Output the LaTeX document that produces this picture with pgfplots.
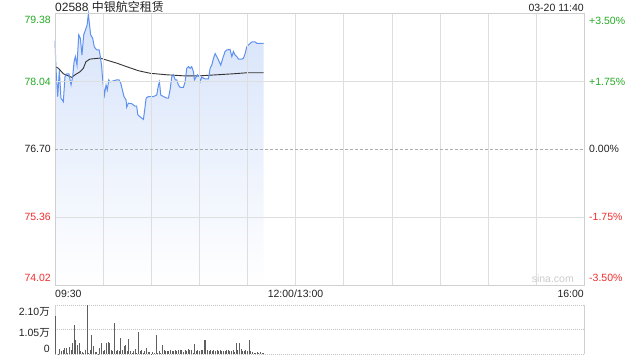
\documentclass[border=0pt]{standalone}
\usepackage{pgfplots}
\pgfplotsset{compat=1.18}
\usepackage{fontspec}
\setmainfont{Liberation Sans}
\newfontfamily\cjk{Noto Sans CJK SC}
\definecolor{upg}{RGB}{35,170,35}
\definecolor{dnr}{RGB}{240,45,45}
\definecolor{pline}{RGB}{95,145,240}
\definecolor{pfill}{RGB}{214,227,250}
\definecolor{gridc}{RGB}{195,195,195}
\definecolor{gridl}{RGB}{222,222,222}
\definecolor{framec}{RGB}{208,208,208}
\definecolor{volc}{RGB}{95,95,95}
\definecolor{txt}{RGB}{34,34,34}
\begin{document}
\begin{tikzpicture}[x=1bp,y=1bp]
\useasboundingbox (0,0) rectangle (640,-360);
% ---------------- price chart ----------------
\begin{axis}[
  at={(55bp,-285bp)}, anchor=south west,
  scale only axis, width=529.5bp, height=271.5bp,
  xmin=0, xmax=330, ymin=74.02, ymax=79.38,
  axis on top,
  axis line style={draw=framec, line width=0.8bp},
  xtick={30,60,...,300}, ytick={75.36,78.04},
  xticklabels={}, yticklabels={},
  major tick length=0pt,
  xmajorgrids=true, ymajorgrids=true,
  major grid style={draw=gridl, line width=0.9bp, solid},
  extra y ticks={76.70}, extra y tick labels={},
  extra y tick style={ymajorgrids=true, major grid style={draw=gray!65, line width=0.8bp, dash pattern=on 3bp off 2bp}},
  clip=false,
]
\addplot[draw=none, top color=pfill, bottom color=white] table {
0.0 78.84
0.6 78.30
1.7 77.74
2.7 78.26
3.7 77.71
5.2 77.64
6.2 78.13
7.3 78.19
8.7 78.19
10.0 77.97
11.0 78.13
11.9 78.43
12.7 78.53
13.7 78.36
14.8 78.96
15.8 78.89
16.8 78.56
17.9 78.96
18.9 79.05
20.0 79.15
20.8 79.37
21.4 79.19
22.2 78.96
23.5 78.89
24.5 78.72
26.0 78.66
27.5 78.66
28.1 78.56
29.1 78.33
29.7 78.07
30.8 77.77
31.8 77.97
32.6 77.87
33.5 78.07
34.3 78.03
36.4 78.05
38.5 78.07
39.9 78.07
41.0 78.00
42.0 77.87
43.0 77.74
44.3 77.67
44.7 77.53
45.7 77.61
47.8 77.60
49.9 77.55
50.9 77.55
51.6 77.38
53.0 77.34
55.1 77.29
55.9 77.48
56.8 77.71
58.2 77.74
61.3 77.74
63.4 77.77
64.5 77.97
65.1 78.03
65.9 77.77
67.6 77.74
69.7 77.71
70.7 77.71
71.7 77.87
72.8 78.13
73.8 78.17
74.9 78.07
75.9 78.07
76.9 77.97
78.0 77.92
80.0 77.92
81.1 78.03
82.1 78.30
83.2 78.33
84.2 78.30
85.2 78.33
86.3 78.23
86.9 78.07
88.0 78.13
88.8 78.17
90.0 78.13
90.4 78.03
91.5 78.13
92.5 78.10
93.6 78.09
95.6 78.09
96.7 78.30
97.7 78.36
98.8 78.50
99.8 78.59
100.8 78.53
101.9 78.46
103.3 78.36
104.6 78.50
106.0 78.63
107.1 78.66
109.1 78.67
110.2 78.53
111.2 78.63
112.3 78.56
113.3 78.53
114.4 78.48
116.4 78.48
117.5 78.50
118.5 78.59
119.5 78.72
120.6 78.76
122.7 78.82
124.7 78.82
125.8 78.79
130.0 78.79
} \closedcycle;
% average price
\addplot[draw=black!80, line width=0.9bp] table {
0.0 78.33
2.1 78.30
5.2 78.19
10.4 78.12
12.5 78.17
15.6 78.23
17.7 78.30
19.3 78.43
21.8 78.48
28.1 78.50
32.2 78.46
38.5 78.40
44.7 78.33
52.0 78.25
59.3 78.20
69.7 78.17
80.0 78.15
90.4 78.15
100.8 78.17
111.2 78.19
119.5 78.21
130.0 78.21
};
% price
\addplot[draw=pline, line width=1bp] table {
0.0 78.84
0.6 78.30
1.7 77.74
2.7 78.26
3.7 77.71
5.2 77.64
6.2 78.13
7.3 78.19
8.7 78.19
10.0 77.97
11.0 78.13
11.9 78.43
12.7 78.53
13.7 78.36
14.8 78.96
15.8 78.89
16.8 78.56
17.9 78.96
18.9 79.05
20.0 79.15
20.8 79.37
21.4 79.19
22.2 78.96
23.5 78.89
24.5 78.72
26.0 78.66
27.5 78.66
28.1 78.56
29.1 78.33
29.7 78.07
30.8 77.77
31.8 77.97
32.6 77.87
33.5 78.07
34.3 78.03
36.4 78.05
38.5 78.07
39.9 78.07
41.0 78.00
42.0 77.87
43.0 77.74
44.3 77.67
44.7 77.53
45.7 77.61
47.8 77.60
49.9 77.55
50.9 77.55
51.6 77.38
53.0 77.34
55.1 77.29
55.9 77.48
56.8 77.71
58.2 77.74
61.3 77.74
63.4 77.77
64.5 77.97
65.1 78.03
65.9 77.77
67.6 77.74
69.7 77.71
70.7 77.71
71.7 77.87
72.8 78.13
73.8 78.17
74.9 78.07
75.9 78.07
76.9 77.97
78.0 77.92
80.0 77.92
81.1 78.03
82.1 78.30
83.2 78.33
84.2 78.30
85.2 78.33
86.3 78.23
86.9 78.07
88.0 78.13
88.8 78.17
90.0 78.13
90.4 78.03
91.5 78.13
92.5 78.10
93.6 78.09
95.6 78.09
96.7 78.30
97.7 78.36
98.8 78.50
99.8 78.59
100.8 78.53
101.9 78.46
103.3 78.36
104.6 78.50
106.0 78.63
107.1 78.66
109.1 78.67
110.2 78.53
111.2 78.63
112.3 78.56
113.3 78.53
114.4 78.48
116.4 78.48
117.5 78.50
118.5 78.59
119.5 78.72
120.6 78.76
122.7 78.82
124.7 78.82
125.8 78.79
130.0 78.79
};
\end{axis}
% ---------------- volume chart ----------------
\begin{axis}[
  at={(55bp,-354bp)}, anchor=south west,
  scale only axis, width=529.5bp, height=49bp,
  xmin=0, xmax=330, ymin=0, ymax=2.10,
  axis line style={draw=none},
  xtick=\empty, ytick={0,1.05,2.10}, yticklabels={},
  major tick length=0pt,
  ymajorgrids,
  major grid style={draw=gridc, line width=0.8bp, dash pattern=on 1bp off 1bp},
  extra x ticks={0,330}, extra x tick labels={},
  extra x tick style={xmajorgrids=true, major grid style={draw=framec, solid, line width=0.8bp}},
  clip=false,
]
\addplot[ycomb, draw=volc, line width=0.9bp] table {
0 1.63
2 0.02
3 0.21
4 0.14
5 0.19
6 0.24
7 0.26
8 0.05
9 0.30
10 0.19
11 0.47
12 1.26
13 0.59
14 0.40
15 0.47
16 0.11
17 0.09
18 0.05
19 0.19
20 2.11
21 0.04
22 0.19
23 0.83
24 0.33
25 0.07
26 0.07
27 0.02
28 0.26
29 0.47
30 0.11
31 0.19
32 0.47
33 0.50
34 0.47
35 0.19
36 0.11
37 1.33
38 0.11
39 0.19
40 0.11
41 0.69
42 0.19
43 0.33
44 0.37
45 0.11
46 0.64
47 0.14
48 0.04
49 0.11
50 0.21
51 0.05
52 0.93
53 0.11
54 0.19
55 0.05
56 0.11
57 0.26
58 0.10
59 0.07
60 0.02
61 0.10
62 0.05
63 0.83
64 0.04
65 0.11
66 0.05
67 0.40
68 0.16
69 0.14
70 0.14
71 0.11
72 0.19
73 0.14
74 0.14
75 0.19
76 0.11
77 0.16
78 0.16
79 0.19
80 0.10
81 0.19
82 0.11
83 0.21
84 0.16
85 0.16
86 0.05
87 0.43
88 0.14
89 0.19
90 0.13
91 0.16
92 0.19
93 0.61
94 0.59
95 0.19
96 0.14
97 0.19
98 0.14
99 0.17
100 0.14
101 0.16
102 0.11
103 0.19
104 0.11
105 0.14
106 0.14
107 0.19
108 0.16
109 0.14
110 0.13
111 0.19
112 0.08
113 0.47
114 0.16
115 0.47
116 0.21
117 0.14
118 0.14
119 0.19
120 0.11
121 0.59
122 0.11
123 0.07
124 0.04
125 0.04
126 0.07
127 0.04
128 0.09
129 0.04
130 0.04
};
\end{axis}
% ---------------- texts ----------------
\tikzset{lab/.style={inner sep=0pt, font=\fontsize{10.5bp}{12bp}\selectfont}}
\node[lab, anchor=west, text=txt, font=\fontsize{12bp}{14bp}\selectfont] at (55,-7) {02588 {\cjk 中银航空租赁}};
\node[lab, anchor=east, text=txt] at (584,-7.5) {03-20 11:40};
% left price labels
\node[lab, anchor=east, text=upg] at (51,-20) {79.38};
\node[lab, anchor=east, text=upg] at (51,-81.7) {78.04};
\node[lab, anchor=east, text=txt] at (51,-149.3) {76.70};
\node[lab, anchor=east, text=dnr] at (51,-217.3) {75.36};
\node[lab, anchor=east, text=dnr] at (51,-277.7) {74.02};
% right percent labels
\node[lab, anchor=west, text=upg] at (589,-20.5) {+3.50\%};
\node[lab, anchor=west, text=upg] at (589,-81.7) {+1.75\%};
\node[lab, anchor=west, text=txt] at (589,-149.3) {0.00\%};
\node[lab, anchor=west, text=dnr] at (589,-217.3) {-1.75\%};
\node[lab, anchor=west, text=dnr] at (589,-278) {-3.50\%};
% time labels
\node[lab, anchor=west, text=txt] at (55,-293.5) {09:30};
\node[lab, anchor=center, text=txt] at (295.5,-293.5) {12:00/13:00};
\node[lab, anchor=east, text=txt] at (584,-293.5) {16:00};
% volume labels
\node[lab, anchor=east, text=txt] at (50,-311.7) {2.10{\cjk 万}};
\node[lab, anchor=east, text=txt] at (50,-332.7) {1.05{\cjk 万}};
\node[lab, anchor=east, text=txt] at (50,-349) {0};
% watermark
\node[lab, anchor=east, text=black!20] at (574,-279) {sina.com};
\end{tikzpicture}
\end{document}
